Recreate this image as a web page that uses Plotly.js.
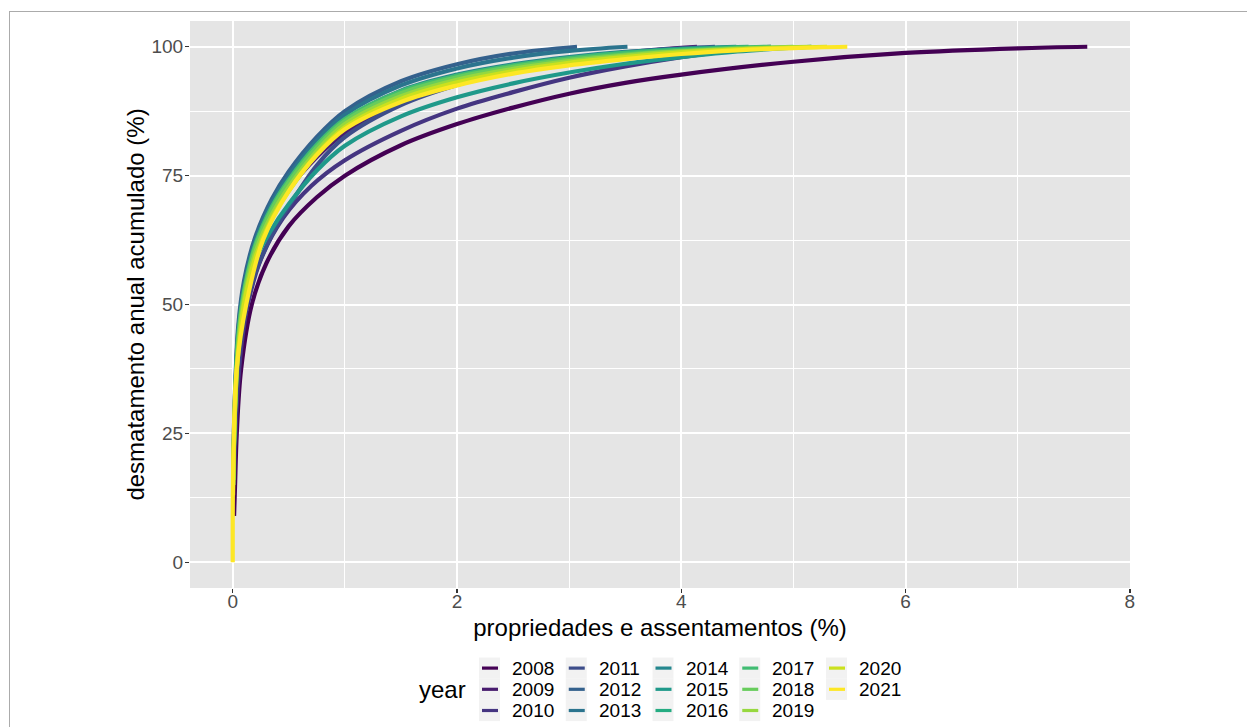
<!DOCTYPE html>
<html>
<head>
<meta charset="utf-8">
<script src="https://cdn.plot.ly/plotly-3.0.1.min.js"></script>
<style>
html, body { margin: 0; padding: 0; overflow: hidden; background: #ffffff; width: 1247px; height: 727px; }
#frame { position: absolute; left: 9px; top: 11px; width: 3000px; height: 3000px; border: 1px solid #ababab; }
#chart { position: absolute; left: 0; top: 0; width: 1247px; height: 727px; }
</style>
</head>
<body>
<div id="frame"></div>
<div id="chart"></div>
<script>
// ---- data ----
const years = ["2008","2009","2010","2011","2012","2013","2014","2015","2016","2017","2018","2019","2020","2021"];
const colors = ["#440154","#481C6E","#453581","#3D4D8A","#34618D","#2B748E","#24878E","#1F998A","#25AC82","#40BC72","#67CC5C","#97D83F","#CBE11E","#FDE725"];
const xTicks = [0, 2, 4, 6, 8];
const yTicks = [0, 25, 50, 75, 100];

const x_2008 = [0.012, 0.02, 0.036, 0.075, 0.17, 0.3, 0.5, 0.75, 1.0, 1.5, 2.0, 2.5, 3.0, 3.5, 4.0, 5.0, 6.0, 7.0, 7.62];
const y_2008 = [9, 14.5, 25, 37.5, 50, 58, 65.2, 70.8, 75, 80.9, 85, 88.2, 90.9, 93, 94.6, 97.1, 98.8, 99.7, 100];

const x_2009 = [0.006, 0.02, 0.05, 0.1, 0.2, 0.35, 0.5, 0.75, 1.0, 1.5, 2.0, 2.5, 3.0, 3.5, 4.14];
const y_2009 = [15, 28, 40, 49.5, 59, 67, 72.3, 78.6, 83.3, 89.2, 93.1, 95.7, 97.5, 98.9, 100];

const x_2010 = [0.01, 0.02, 0.04, 0.08, 0.134, 0.25, 0.45, 0.7, 1.0, 1.5, 2.0, 2.5, 3.0, 3.5, 4.0, 4.5, 4.8];
const y_2010 = [15, 22, 32, 42.5, 50, 58.7, 66.8, 73, 78, 83.7, 88, 91.2, 94, 96.2, 98, 99.4, 100];

const x_2011 = [0.006, 0.02, 0.05, 0.1, 0.2, 0.35, 0.5, 0.75, 1.0, 1.5, 2.0, 2.5, 3.0, 3.5, 4.0, 4.3];
const y_2011 = [15, 28, 39, 47.5, 56, 63.5, 69, 77, 82.5, 88.7, 92.6, 95.3, 97.3, 98.8, 99.7, 100];

const x_2012 = [0.004, 0.02, 0.05, 0.1, 0.2, 0.35, 0.5, 0.75, 1.0, 1.5, 2.0, 2.5, 3.07];
const y_2012 = [18, 33, 46, 54.5, 63, 70.5, 75.8, 82.5, 87.5, 93.3, 96.6, 98.7, 100];

const x_2013 = [0.004, 0.02, 0.05, 0.1, 0.2, 0.35, 0.5, 0.75, 1.0, 1.5, 2.0, 2.5, 3.0, 3.52];
const y_2013 = [17, 32, 45, 53.5, 62.3, 69.8, 75, 81.8, 86.8, 92.5, 95.8, 97.9, 99.2, 100];

const x_2014 = [0.005, 0.02, 0.05, 0.1, 0.2, 0.35, 0.5, 0.75, 1.0, 1.5, 2.0, 2.5, 3.0, 3.5, 4.0, 4.49];
const y_2014 = [16, 31, 44, 52.5, 61.5, 69, 74, 80.8, 85.8, 91.5, 94.6, 96.6, 98, 99, 99.6, 100];

const x_2015 = [0.005, 0.02, 0.05, 0.1, 0.2, 0.33, 0.5, 0.75, 1.0, 1.5, 2.0, 2.5, 3.0, 3.5, 4.0, 4.5, 5.16];
const y_2015 = [16, 30, 42, 50.5, 58.5, 64, 69.5, 76, 80.8, 86.5, 90.2, 92.9, 95, 96.7, 98, 99.1, 100];

const x_2016 = [0.005, 0.02, 0.05, 0.1, 0.2, 0.35, 0.5, 0.75, 1.0, 1.5, 2.0, 2.5, 3.0, 3.5, 4.0, 4.6];
const y_2016 = [16, 30, 43, 51.5, 60.5, 68, 73.3, 80.3, 85.3, 91, 94.1, 96.2, 97.7, 98.8, 99.5, 100];

const x_2017 = [0.005, 0.02, 0.05, 0.1, 0.2, 0.35, 0.5, 0.75, 1.0, 1.5, 2.0, 2.5, 3.0, 3.5, 4.0, 4.5, 4.8];
const y_2017 = [16, 31, 44, 52.5, 61.5, 69, 74.2, 81, 86, 91.4, 94.4, 96.4, 97.8, 98.8, 99.4, 99.85, 100];

const x_2018 = [0.005, 0.02, 0.05, 0.1, 0.2, 0.35, 0.5, 0.75, 1.0, 1.5, 2.0, 2.5, 3.0, 3.5, 4.0, 4.5, 5.0];
const y_2018 = [16, 30, 43, 52, 61, 68.5, 73.7, 80.5, 85.6, 91, 94.1, 96.1, 97.5, 98.5, 99.2, 99.7, 100];

const x_2019 = [0.004, 0.02, 0.05, 0.1, 0.2, 0.35, 0.5, 0.75, 1.0, 1.5, 2.0, 2.5, 3.0, 3.5, 4.0, 4.5, 5.16];
const y_2019 = [15, 29, 42, 51, 60, 67.5, 72.8, 79.8, 85, 90.4, 93.6, 95.7, 97.2, 98.3, 99.1, 99.6, 100];

const x_2020 = [0.003, 0.015, 0.04, 0.1, 0.2, 0.35, 0.5, 0.75, 1.0, 1.5, 2.0, 2.5, 3.0, 3.5, 4.0, 4.5, 5.0, 5.3];
const y_2020 = [13, 26, 38, 50, 59, 66.8, 72, 79.2, 84.4, 89.9, 93.1, 95.3, 96.9, 98, 98.9, 99.5, 99.85, 100];

const x_2021 = [0, 0.001, 0.01, 0.035, 0.12, 0.27, 0.5, 0.75, 1.0, 1.5, 2.0, 2.5, 3.0, 3.5, 4.0, 4.5, 5.0, 5.48];
const y_2021 = [0, 12.5, 25, 37.5, 50, 62.5, 72, 79, 84, 89.3, 92.5, 94.8, 96.4, 97.6, 98.6, 99.3, 99.75, 100];

const seriesX = [x_2008, x_2009, x_2010, x_2011, x_2012, x_2013, x_2014, x_2015, x_2016, x_2017, x_2018, x_2019, x_2020, x_2021];
const seriesY = [y_2008, y_2009, y_2010, y_2011, y_2012, y_2013, y_2014, y_2015, y_2016, y_2017, y_2018, y_2019, y_2020, y_2021];

// ---- layout geometry (pixels of the 1247x727 page) ----
const M = { l: 190, r: 117, t: 21, b: 139 };
const W = 1247, H = 727;
const PW = W - M.l - M.r, PH = H - M.t - M.b;
const px = v => (v - M.l) / PW;
const py = v => (H - M.b - v) / PH;
const FONT = "Liberation Sans, Arial, Helvetica, sans-serif";

const traces = years.map((yr, i) => ({
  type: "scatter",
  mode: "lines",
  name: yr,
  x: seriesX[i],
  y: seriesY[i],
  line: { color: colors[i], width: 4.2, shape: "spline", smoothing: 1 },
  showlegend: false,
  hoverinfo: "x+y+name"
}));

// ---- legend drawn in ggplot style (5 columns x 3 rows, column-major) ----
const shapes = [];
const annotations = [];
const keyLeft0 = 479, colStep = 86.75, keyW = 21, rowTop0 = 657.5, rowH = 21.2;
years.forEach((yr, i) => {
  const col = Math.floor(i / 3), row = i % 3;
  const kx = keyLeft0 + col * colStep;
  const ky = rowTop0 + row * rowH;
  shapes.push({ type: "rect", xref: "paper", yref: "paper", layer: "below",
    x0: px(kx), x1: px(kx + keyW), y0: py(ky), y1: py(ky + rowH),
    fillcolor: "#F2F2F2", line: { width: 0 } });
  shapes.push({ type: "line", xref: "paper", yref: "paper",
    x0: px(kx + 3), x1: px(kx + 19), y0: py(ky + rowH / 2), y1: py(ky + rowH / 2),
    line: { color: colors[i], width: 3.2 } });
  annotations.push({ xref: "paper", yref: "paper", x: px(kx + 31), y: py(ky + rowH / 2),
    xanchor: "left", yanchor: "middle", showarrow: false, text: yr,
    font: { family: FONT, size: 19, color: "#000000" } });
});
annotations.push({ xref: "paper", yref: "paper", x: px(417), y: py(689), xanchor: "left", yanchor: "middle",
  showarrow: false, text: "year", font: { family: FONT, size: 24, color: "#000000" } });

const axisCommon = {
  showline: false, zeroline: false,
  gridcolor: "#FFFFFF", gridwidth: 2,
  ticks: "outside", ticklen: 4, tickwidth: 1.3, tickcolor: "#333333",
  tickfont: { family: FONT, size: 19, color: "#4D4D4D" },
  automargin: false
};

const layout = {
  width: W, height: H,
  margin: M,
  paper_bgcolor: "rgba(0,0,0,0)",
  plot_bgcolor: "#E5E5E5",
  font: { family: FONT },
  showlegend: false,
  xaxis: Object.assign({}, axisCommon, {
    range: [-0.381, 8.001],
    tickmode: "array", tickvals: xTicks, ticktext: xTicks.map(String),
    ticklabelstandoff: -8,
    minor: { tickmode: "array", tickvals: [1, 3, 5, 7], showgrid: true, gridcolor: "#FFFFFF", gridwidth: 1, ticks: "" },
    title: { text: "propriedades e assentamentos (%)", font: { family: FONT, size: 24, color: "#000000" }, standoff: 8 }
  }),
  yaxis: Object.assign({}, axisCommon, {
    range: [-5, 105],
    tickmode: "array", tickvals: yTicks, ticktext: yTicks.map(String),
    ticklabelstandoff: -2,
    minor: { tickmode: "array", tickvals: [12.5, 37.5, 62.5, 87.5], showgrid: true, gridcolor: "#FFFFFF", gridwidth: 1, ticks: "" },
    title: { text: "desmatamento anual acumulado (%)", font: { family: FONT, size: 24, color: "#000000" }, standoff: 0 }
  }),
  shapes: shapes,
  annotations: annotations
};

Plotly.newPlot("chart", traces, layout, { displayModeBar: false, staticPlot: true });
</script>
</body>
</html>
